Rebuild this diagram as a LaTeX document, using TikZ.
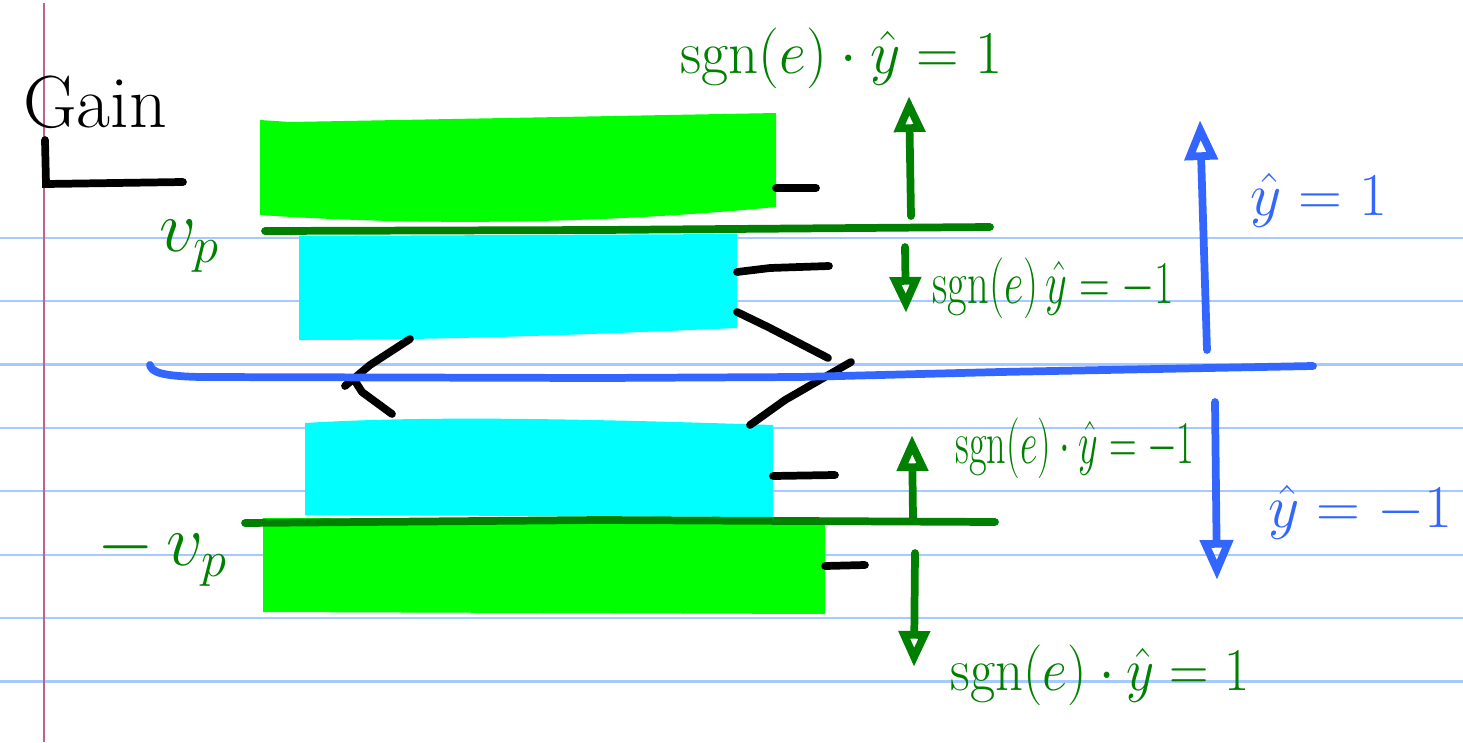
\documentclass[tikz,border=0pt]{standalone}
\usepackage{amsmath}
\usepackage{graphicx}
\usetikzlibrary{arrows.meta}
\definecolor{inkgreen}{RGB}{0,128,0}
\definecolor{hlgreen}{RGB}{0,255,0}
\definecolor{hlcyan}{RGB}{0,255,255}
\definecolor{inkblue}{RGB}{51,102,255}
\definecolor{ruleblue}{RGB}{166,202,255}
\definecolor{marginred}{RGB}{190,100,140}
\newcommand{\squeeze}[2]{\scalebox{#1}[1]{#2}}

\begin{document}
\begin{tikzpicture}[x=0.01cm,y=-0.01cm,
  rule/.style={ruleblue,line width=0.6pt},
  pen/.style={line width=2.2pt,line cap=round},
  lead/.style={pen,black},
  glbl/.style={text=inkgreen,font=\fontsize{16}{18}\selectfont,inner sep=0pt,anchor=west},
  blbl/.style={text=inkblue,font=\fontsize{19}{22}\selectfont,inner sep=0pt,anchor=west},
  garr/.style={pen,inkgreen,-{Triangle[open,length=3.6mm,width=3mm]}},
  barr/.style={pen,inkblue,-{Triangle[open,length=4mm,width=3.2mm]}}]
\useasboundingbox (0,0) rectangle (1463,742);
\fill[white] (0,0) rectangle (1463,742);
% ruled paper
\foreach \k in {0,...,7} \draw[rule] (0,237.7+63.4*\k) -- (1463,237.7+63.4*\k);
\draw[marginred,line width=0.8pt] (44,3) -- (44,742);
% title
\node[font=\fontsize{21}{25}\selectfont,inner sep=0pt] (gain) at (95,102) {Gain};
\draw[pen,black] (45,140) -- (46,184) -- (183,182);
% bands
\fill[hlgreen] (260,120) -- (290,122) -- (776,113) -- (776,207) .. controls (600,224) and (420,226) .. (260,215) -- cycle;
\fill[hlcyan] (299,236) -- (737,234) -- (737,328) .. controls (600,334) and (450,340) .. (299,340) -- cycle;
\fill[hlcyan] (305,423) .. controls (420,416) and (560,418) .. (773,425) -- (773,517) -- (305,515) -- cycle;
\fill[hlgreen] (263,518) -- (825,520) -- (825,614) -- (263,612) -- cycle;
% leads
\draw[lead] (776,188) -- (816,188);
\draw[lead] (737,272) -- (770,268) -- (829,266);
\draw[lead] (737,312) -- (768,327) -- (828,358);
\draw[lead] (851,362) -- (785,400) -- (750,425);
\draw[lead] (410,339) -- (370,365) -- (345,386);
\draw[lead] (355,381) -- (362,392) -- (392,414);
\draw[lead] (773,476) -- (835,475);
\draw[lead] (825,566) -- (865,565);
% levels
\draw[pen,inkgreen] (265,231) -- (600,230) -- (990,227);
\draw[pen,inkgreen] (245,523) -- (600,520) -- (995,522);
\draw[pen,inkblue] (150,365) .. controls (152,372) and (160,376) .. (200,377) -- (600,378) -- (800,377) -- (1000,372) -- (1313,366);
\node[text=inkgreen,font=\fontsize{22}{26}\selectfont,inner sep=0pt] (vp) at (190,246) {$v_p$};
\node[text=inkgreen,font=\fontsize{22}{26}\selectfont,inner sep=0pt] (mvp) at (163,555) {$-\,v_p$};
% green arrows
\coordinate (gA0) at (911,216); \coordinate (gA1) at (909,96);
\coordinate (gB0) at (905,247); \coordinate (gB1) at (906,313);
\coordinate (gC0) at (913,518); \coordinate (gC1) at (912,435);
\coordinate (gD0) at (915,553); \coordinate (gD1) at (914,667);
\draw[garr] (gA0) -- (gA1);
\draw[garr] (gB0) -- (gB1);
\draw[garr] (gC0) -- (gC1);
\draw[garr] (gD0) -- (gD1);
\node[glbl] (sA) at (680,58) {\squeeze{0.97}{$\mathrm{sgn}(e)\cdot\hat{y} = 1$}};
\node[glbl] (sB) at (932,288) {\squeeze{0.7}{$\mathrm{sgn}(e)\,\hat{y} = -1$}};
\node[glbl] (sC) at (955,448) {\squeeze{0.63}{$\mathrm{sgn}(e)\cdot\hat{y} = -1$}};
\node[glbl] (sD) at (950,675) {\squeeze{0.9}{$\mathrm{sgn}(e)\cdot\hat{y} = 1$}};
% blue arrows
\coordinate (bA0) at (1207,350); \coordinate (bA1) at (1200,120);
\coordinate (bB0) at (1215,402); \coordinate (bB1) at (1217,580);
\draw[barr] (bA0) -- (bA1);
\draw[barr] (bB0) -- (bB1);
\node[blbl] (yA) at (1250,200) {$\hat{y} = 1$};
\node[blbl] (yB) at (1268,512) {$\hat{y} = -1$};
\end{tikzpicture}
\end{document}
